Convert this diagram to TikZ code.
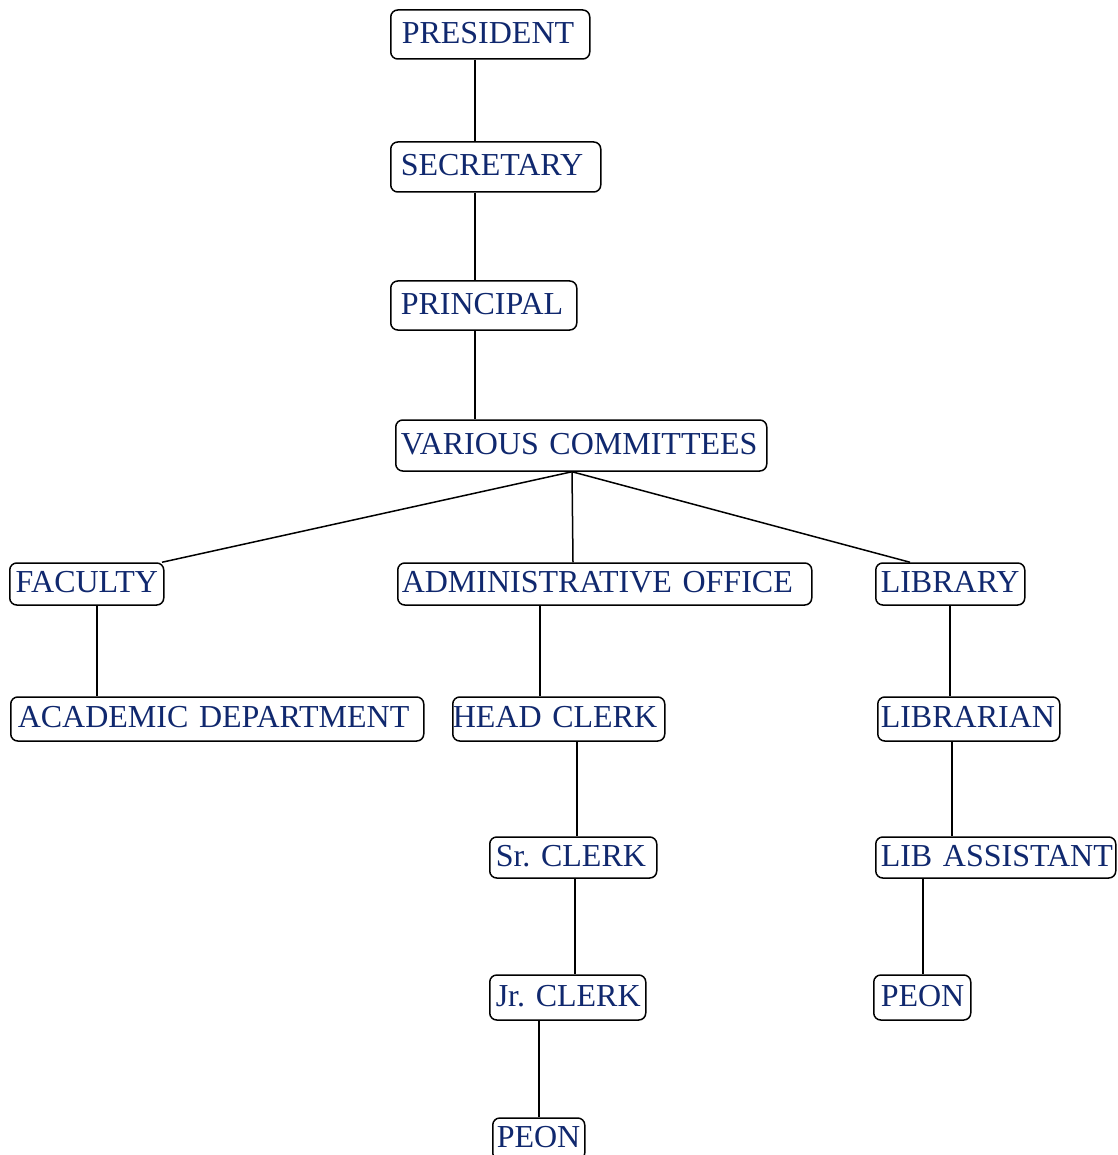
\documentclass[tikz,border=0pt]{standalone}
\usepackage{fontspec}
\setmainfont{Liberation Serif}
\definecolor{txtblue}{RGB}{16,40,110}
\begin{document}
\frenchspacing
\begin{tikzpicture}[x=1pt,y=1pt,
  box/.style={draw=black, line width=1.5pt, rounded corners=7pt, fill=white,
    anchor=west, inner ysep=0pt, text=txtblue, align=left, text depth=4pt,
    font=\fontsize{32}{34}\selectfont\frenchspacing},
  link/.style={draw=black, line width=1.5pt}]
\useasboundingbox (0,0) rectangle (1117,-1155);
% nodes: anchor west at (left, -centre y)
\node[box, minimum width=199pt, minimum height=49pt, inner xsep=11pt, text width=177pt] (pres) at (390,-34.5) {\mbox{PRESIDENT}};
\node[box, minimum width=210pt, minimum height=50pt, inner xsep=10pt, text width=190pt] (sec) at (390,-167) {\mbox{SECRETARY}};
\node[box, minimum width=186pt, minimum height=49pt, inner xsep=10pt, text width=166pt] (prin) at (390,-305.5) {\mbox{PRINCIPAL}};
\node[box, minimum width=371pt, minimum height=51pt, inner xsep=5pt, text width=361pt] (comm) at (395,-445.5) {\mbox{VARIOUS COMMITTEES}};
\node[box, minimum width=154pt, minimum height=42pt, inner xsep=6pt, text width=142pt] (fac) at (9,-584) {\mbox{FACULTY}};
\node[box, minimum width=414pt, minimum height=42pt, inner xsep=4pt, text width=406pt] (adm) at (397,-584) {\mbox{ADMINISTRATIVE OFFICE}};
\node[box, minimum width=149pt, minimum height=42pt, inner xsep=5pt, text width=139pt] (lib) at (875,-584) {\mbox{LIBRARY}};
\node[box, minimum width=413pt, minimum height=44pt, inner xsep=7pt, text width=399pt] (acad) at (10,-719) {\mbox{ACADEMIC DEPARTMENT}};
\node[box, minimum width=212pt, minimum height=44pt, inner xsep=0pt, text width=212pt] (head) at (452,-719) {\mbox{HEAD CLERK}};
\node[box, minimum width=182pt, minimum height=44pt, inner xsep=3pt, text width=176pt] (libn) at (877,-719) {\mbox{LIBRARIAN}};
\node[box, minimum width=167pt, minimum height=41pt, inner xsep=6pt, text width=155pt] (sr) at (489,-857.5) {\mbox{Sr. CLERK}};
\node[box, minimum width=240pt, minimum height=41pt, inner xsep=5pt, text width=230pt] (asst) at (875,-857.5) {\mbox{LIB ASSISTANT}};
\node[box, minimum width=156pt, minimum height=45pt, inner xsep=6pt, text width=144pt] (jr) at (489,-997.5) {\mbox{Jr. CLERK}};
\node[box, minimum width=97pt, minimum height=45pt, inner xsep=7pt, text width=83pt] (peonb) at (873,-997.5) {\mbox{PEON}};
\node[box, minimum width=92pt, minimum height=42pt, inner xsep=4pt, text width=84pt] (peona) at (492,-1139) {\mbox{PEON}};
% connectors
\draw[link] ([xshift=85pt]pres.south west) -- ([xshift=85pt]sec.north west);
\draw[link] ([xshift=85pt]sec.south west) -- ([xshift=85pt]prin.north west);
\draw[link] ([xshift=85pt]prin.south west) -- ([xshift=80pt]comm.north west);
\draw[link] ([xshift=177pt]comm.south west) -- ([xshift=153pt]fac.north west);
\draw[link] ([xshift=177pt]comm.south west) -- ([xshift=176pt]adm.north west);
\draw[link] ([xshift=177pt]comm.south west) -- ([xshift=35pt]lib.north west);
\draw[link] ([xshift=88pt]fac.south west) -- ([xshift=87pt]acad.north west);
\draw[link] ([xshift=143pt]adm.south west) -- ([xshift=88pt]head.north west);
\draw[link] ([xshift=125pt]head.south west) -- ([xshift=88pt]sr.north west);
\draw[link] ([xshift=86pt]sr.south west) -- ([xshift=86pt]jr.north west);
\draw[link] ([xshift=50pt]jr.south west) -- ([xshift=47pt]peona.north west);
\draw[link] ([xshift=75pt]lib.south west) -- ([xshift=73pt]libn.north west);
\draw[link] ([xshift=75pt]libn.south west) -- ([xshift=77pt]asst.north west);
\draw[link] ([xshift=48pt]asst.south west) -- ([xshift=50pt]peonb.north west);
\end{tikzpicture}
\end{document}
